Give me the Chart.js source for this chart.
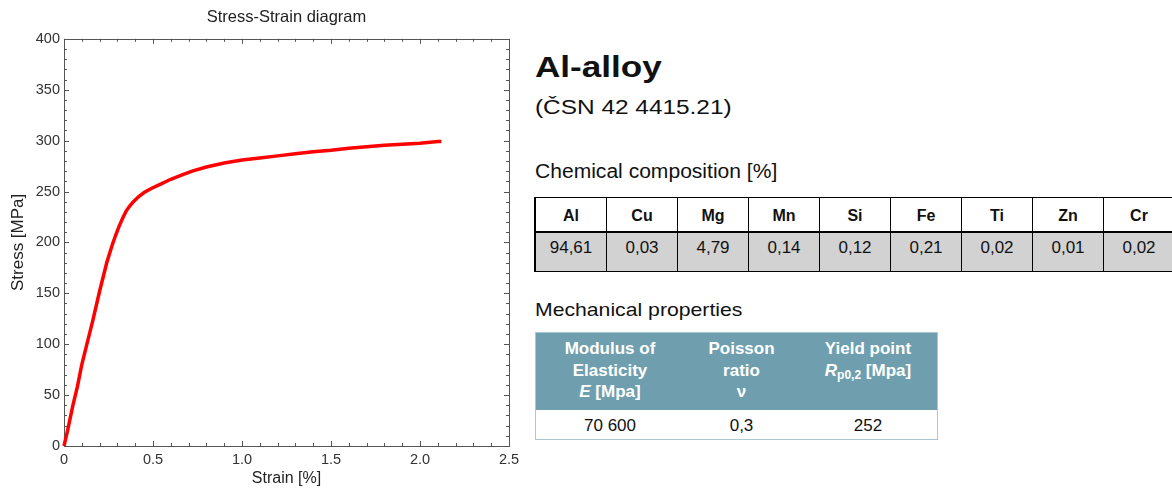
<!DOCTYPE html>
<html>
<head>
<meta charset="utf-8">
<title>Al-alloy</title>
<script src="https://cdn.jsdelivr.net/npm/chart.js@4.4.1/dist/chart.umd.min.js"></script>
<style>
    html, body {
        margin: 0;
        padding: 0;
        background: #fff;
    }
    body {
        width: 1172px;
        height: 488px;
        overflow: hidden;
        position: relative;
        font-family: "Liberation Sans", Arial, sans-serif;
        color: #111;
    }
    #grafico {
        position: absolute;
        left: 0;
        top: 0;
    }
    .texto {
        position: absolute;
        left: 535px;
        white-space: nowrap;
        transform-origin: left top;
    }
    #aleacion {
        top: 52px;
        font-size: 30px;
        line-height: 30px;
        font-weight: bold;
        transform: scaleX(1.17);
    }
    #norma {
        top: 97px;
        font-size: 20.5px;
        line-height: 20.5px;
        transform: scaleX(1.19);
    }
    #quimica {
        top: 162px;
        font-size: 19.5px;
        line-height: 19.5px;
        transform: scaleX(1.08);
    }
    #mecanica {
        top: 301px;
        font-size: 18.6px;
        line-height: 18.6px;
        transform: scaleX(1.14);
    }

    /* tabla de composicion */
    #composicion {
        position: absolute;
        left: 534px;
        top: 197px;
        border-top: 1px solid #000;
        border-left: 2px solid #000;
    }
    #composicion .fila {
        display: flex;
    }
    #composicion .celda {
        width: 71px;
        box-sizing: border-box;
        border-right: 1px solid #000;
        border-bottom: 1px solid #000;
        text-align: center;
    }
    #composicion .cabecera .celda {
        height: 35px;
        padding-top: 10px;
        font-size: 16px;
        line-height: 16px;
        font-weight: bold;
        border-bottom: 2px solid #000;
    }
    #composicion .valores .celda {
        height: 39px;
        padding-top: 6px;
        font-size: 17px;
        line-height: 17px;
        background: #d2d2d2;
    }

    /* tabla de propiedades */
    #propiedades {
        position: absolute;
        left: 535px;
        top: 332px;
        width: 403px;
        box-sizing: border-box;
        border: 1px solid #aac8d3;
    }
    #propiedades .fila {
        display: flex;
    }
    #propiedades .celda {
        box-sizing: border-box;
        text-align: center;
    }
    #propiedades .cabecera {
        background: #6f9fae;
        height: 77px;
    }
    #propiedades .cabecera .celda {
        color: #fff;
        font-weight: bold;
        font-size: 17px;
        line-height: 21.5px;
        padding-top: 5px;
    }
    #propiedades .cuerpo .celda {
        height: 29px;
        font-size: 17px;
        line-height: 17px;
        padding-top: 7px;
    }
    #propiedades sub {
        font-size: 12px;
        vertical-align: -3px;
        line-height: 0;
    }
</style>
</head>
<body>

<canvas id="grafico" width="530" height="488"></canvas>

<div class="texto" id="aleacion">Al-alloy</div>
<div class="texto" id="norma">(ČSN 42 4415.21)</div>
<div class="texto" id="quimica">Chemical composition [%]</div>
<div id="composicion"></div>
<div class="texto" id="mecanica">Mechanical properties</div>
<div id="propiedades"></div>

<script>
const deformacion = [0, 0.02, 0.05, 0.075, 0.10, 0.13, 0.16, 0.20, 0.24, 0.27, 0.29, 0.31, 0.33, 0.35, 0.37,
    0.39, 0.42, 0.45, 0.49, 0.54, 0.60, 0.66, 0.72, 0.80, 0.90, 1.00, 1.10, 1.20, 1.30, 1.40, 1.50,
    1.60, 1.70, 1.80, 1.90, 2.00, 2.10, 2.12];
const tension = [0, 15, 40, 58, 80, 101, 122, 152, 180, 197, 207, 216, 224, 231, 236,
    240, 245, 249, 253, 257, 262, 266, 270, 274, 278, 281, 283, 285, 287, 289, 290.5,
    292.5, 294, 295.5, 296.5, 297.5, 299, 299];

// Ejes
const ejeX = { min: 0, max: 2.5, paso: 0.5, menor: 0.1 };
const ejeY = { min: 0, max: 400, paso: 50, menor: 10 };

// Composicion quimica [%]
const elementos = ["Al", "Cu", "Mg", "Mn", "Si", "Fe", "Ti", "Zn", "Cr"];
const porcentajes = ["94,61", "0,03", "4,79", "0,14", "0,12", "0,21", "0,02", "0,01", "0,02"];

// Propiedades mecanicas
const propiedades = [
    "Modulus of<br>Elasticity<br><i>E</i> [Mpa]",
    "Poisson<br>ratio<br>ν",
    "Yield point<br><i>R</i><sub>p0,2</sub> [Mpa]"
];
const valoresPropiedades = ["70 600", "0,3", "252"];
const anchosPropiedades = [148, 115, 138];

/*========== Tablas ==========*/
function crearFila(clase, textos, anchos) {
    const fila = document.createElement("div");
    fila.className = "fila " + clase;
    textos.forEach(function(t, i) {
        const celda = document.createElement("div");
        celda.className = "celda";
        celda.innerHTML = t;
        if (anchos) celda.style.width = anchos[i] + "px";
        fila.appendChild(celda);
    });
    return fila;
}

const tablaComp = document.getElementById("composicion");
tablaComp.appendChild(crearFila("cabecera", elementos));
tablaComp.appendChild(crearFila("valores", porcentajes));

const tablaProp = document.getElementById("propiedades");
tablaProp.appendChild(crearFila("cabecera", propiedades, anchosPropiedades));
tablaProp.appendChild(crearFila("cuerpo", valoresPropiedades, anchosPropiedades));

/*========== Diagrama ==========*/
// Marco con marcas hacia dentro en los cuatro lados
const marcoConMarcas = {
    id: "marcoConMarcas",
    beforeDatasetsDraw(chart) {
        const c = chart.ctx;
        const a = chart.chartArea;
        const sx = chart.scales.x;
        const sy = chart.scales.y;
        c.save();
        c.strokeStyle = "#555";
        c.lineWidth = 1;
        c.strokeRect(Math.round(a.left) + 0.5, Math.round(a.top) + 0.5,
            Math.round(a.right - a.left), Math.round(a.bottom - a.top));
        c.beginPath();
        const nx = Math.round((ejeX.max - ejeX.min) / ejeX.menor);
        const cadaX = Math.round(ejeX.paso / ejeX.menor);
        for (let i = 0; i <= nx; i++) {
            const px = Math.round(sx.getPixelForValue(ejeX.min + i * ejeX.menor)) + 0.5;
            const largo = i % cadaX === 0 ? 5 : 3;
            c.moveTo(px, a.bottom); c.lineTo(px, a.bottom - largo);
            c.moveTo(px, a.top); c.lineTo(px, a.top + largo);
        }
        const ny = Math.round((ejeY.max - ejeY.min) / ejeY.menor);
        const cadaY = Math.round(ejeY.paso / ejeY.menor);
        for (let j = 0; j <= ny; j++) {
            const py = Math.round(sy.getPixelForValue(ejeY.min + j * ejeY.menor)) + 0.5;
            const largo = j % cadaY === 0 ? 5 : 3;
            c.moveTo(a.left, py); c.lineTo(a.left + largo, py);
            c.moveTo(a.right, py); c.lineTo(a.right - largo, py);
        }
        c.stroke();
        c.restore();
    }
};

const fuente = "'Liberation Sans', Arial, sans-serif";

const ctx = document.getElementById("grafico").getContext("2d");
const grafico = new Chart(ctx, {
    type: "line",
    data: {
        datasets: [{
            data: deformacion.map((d, i) => ({ x: d, y: tension[i] })),
            borderColor: "#ff0000",
            borderWidth: 3.5,
            pointRadius: 0,
            tension: 0,
            clip: false
        }]
    },
    options: {
        responsive: false,
        animation: false,
        devicePixelRatio: 1,
        layout: { padding: { left: 0, right: 21, top: 0, bottom: 0 } },
        plugins: {
            legend: { display: false },
            tooltip: { enabled: false },
            title: {
                display: true,
                text: "Stress-Strain diagram",
                fullSize: false,
                color: "#222",
                font: { family: fuente, size: 16.5, weight: "normal" },
                padding: { top: 8, bottom: 11 }
            }
        },
        scales: {
            x: {
                type: "linear",
                min: ejeX.min,
                max: ejeX.max,
                grid: { display: true, drawOnChartArea: false, drawTicks: false },
                border: { display: false },
                ticks: {
                    stepSize: ejeX.paso,
                    padding: 5,
                    color: "#333",
                    maxRotation: 0,
                    font: { family: fuente, size: 14.5 }
                },
                title: {
                    display: true,
                    text: "Strain [%]",
                    color: "#222",
                    font: { family: fuente, size: 16 },
                    padding: 0
                },
                afterFit: function(s) { s.height = 42; }
            },
            y: {
                min: ejeY.min,
                max: ejeY.max,
                grid: { display: true, drawOnChartArea: false, drawTicks: false },
                border: { display: false },
                ticks: {
                    stepSize: ejeY.paso,
                    padding: 4,
                    color: "#333",
                    font: { family: fuente, size: 14.5 }
                },
                title: {
                    display: true,
                    text: "Stress [MPa]",
                    color: "#222",
                    font: { family: fuente, size: 17 },
                    padding: { top: 8, bottom: 0 }
                },
                afterFit: function(s) { s.width = 64; }
            }
        }
    },
    plugins: [marcoConMarcas]
});
</script>
</body>
</html>
